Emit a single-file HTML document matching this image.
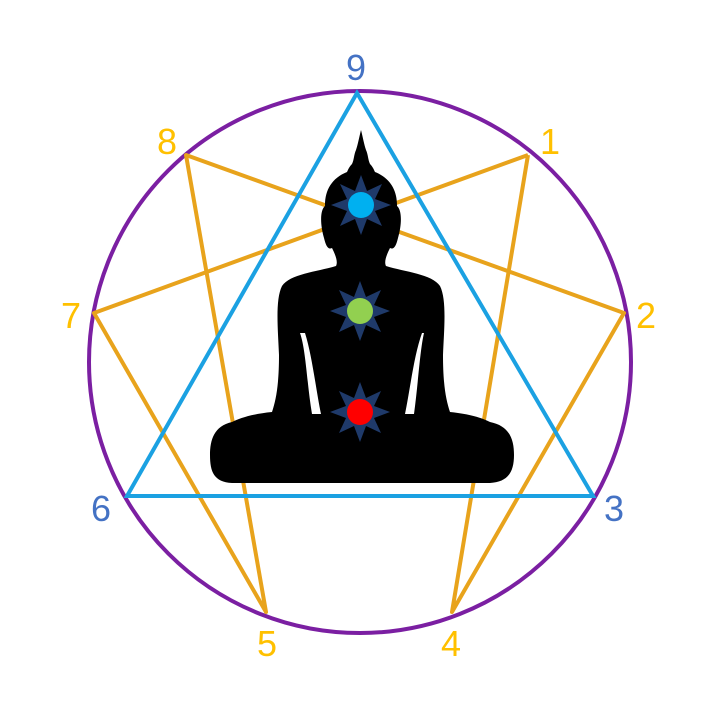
<!DOCTYPE html>
<html><head><meta charset="utf-8"><style>
html,body{margin:0;padding:0;background:#fff;width:720px;height:720px;overflow:hidden}
svg text{font-family:"Liberation Sans",sans-serif;font-size:36px}
</style></head><body>
<svg width="720" height="720" viewBox="0 0 720 720" xmlns="http://www.w3.org/2000/svg">
<defs>
<g id="star">
<polygon points="0,-30 6,-14 21,-21 14,-6 30,0 14,6 21,21 6,14 0,30 -6,14 -21,21 -14,6 -30,0 -14,-6 -21,-21 -6,-14" fill="#1f3a6a"/>
</g>
</defs>
<circle cx="360" cy="362" r="271" fill="none" stroke="#7b1fa2" stroke-width="4"/>
<g stroke="#e8a31c" stroke-width="4" fill="none" stroke-linejoin="round">
<polyline points="528,155 452,612 624,313 186,155 266,612 94,313 528,155"/>
</g>
<polygon points="357,93 593,496 127,496" fill="none" stroke="#1ba1e2" stroke-width="4"/>
<g fill="#000">
<path d="M361,130 C363,138 364,144 366,150 C368,154 368,160 370,164 C373,167 374,170 375,172 C390,178 397,190 397,205 L397,206 C402,210 402,224 398,238 C396,246 394,250 390,248 C386,256 384,262 386,266 C405,272 432,274 440,286 C447,300 444,330 443,355 C443,385 446,400 450,412 C470,414 482,418 490,422 C510,426 514,440 514,455 C514,472 508,482 490,483 L232,483 C214,482 210,472 210,455 C210,440 214,426 232,422 C240,418 252,414 272,412 C276,400 279,385 279,355 C278,330 275,300 282,286 C290,274 316,272 336,266 C338,262 336,256 332,248 C328,250 326,246 324,238 C320,224 320,210 325,206 L325,205 C325,190 332,178 347,172 C348,170 349,167 352,164 C354,160 354,154 356,150 C358,144 359,138 361,130 Z"/>
</g>
<g fill="#fff">
<path d="M300,333 C306,350 307,385 312,414 L321,414 C316,390 312,355 305,333 Z"/>
<path d="M422,333 C414,355 410,390 405,414 L414,414 C418,385 420,350 424,333 Z"/>
</g>
<use href="#star" x="361" y="205"/>
<circle cx="361" cy="205" r="13" fill="#00b0f0"/>
<use href="#star" x="360" y="311"/>
<circle cx="360" cy="311" r="13" fill="#92d050"/>
<use href="#star" x="360" y="412"/>
<circle cx="360" cy="412" r="13" fill="#ff0000"/>
<text x="356" y="80" fill="#4472c4" text-anchor="middle">9</text>
<text x="550" y="154" fill="#ffc000" text-anchor="middle">1</text>
<text x="646" y="328" fill="#ffc000" text-anchor="middle">2</text>
<text x="614" y="521" fill="#4472c4" text-anchor="middle">3</text>
<text x="451" y="656" fill="#ffc000" text-anchor="middle">4</text>
<text x="267" y="656" fill="#ffc000" text-anchor="middle">5</text>
<text x="101" y="521" fill="#4472c4" text-anchor="middle">6</text>
<text x="71" y="328" fill="#ffc000" text-anchor="middle">7</text>
<text x="167" y="154" fill="#ffc000" text-anchor="middle">8</text>
</svg>
</body></html>
